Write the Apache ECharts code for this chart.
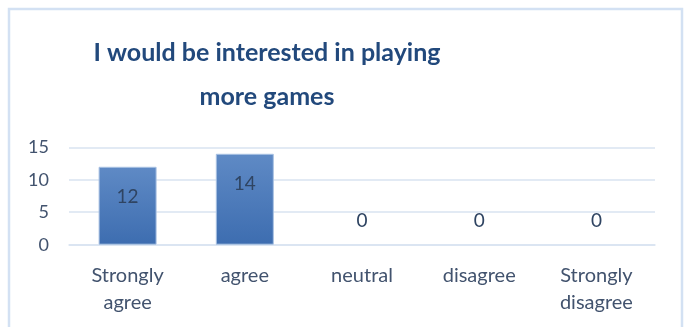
<!DOCTYPE html>
<html>
<head>
<meta charset="utf-8">
<script src="https://cdn.jsdelivr.net/npm/echarts@6/dist/echarts.min.js"></script>
<style>
  html, body { margin: 0; padding: 0; background: #ffffff; }
  #chart { width: 689px; height: 327px; }
</style>
</head>
<body>
<div id="chart"></div>
<script>
// Survey responses
const categories = ['Strongly\nagree', 'agree', 'neutral', 'disagree', 'Strongly\ndisagree'];
const counts = [12, 14, 0, 0, 0];
const titleText = 'I would be interested in playing\nmore games';

const FONT = 'Lato, "Open Sans", sans-serif';
const TEXT_COLOR = '#42536e';

const chart = echarts.init(document.getElementById('chart'));

// Non-empty bars carry their label inside the top; empty ones just above the baseline.
const barData = counts.map(v => v > 0
  ? { value: v }
  : { value: v, itemStyle: { borderWidth: 0 }, label: { position: 'top', distance: 14 } });

chart.setOption({
  animation: false,
  graphic: [{
    type: 'rect',
    shape: { x: 9, y: 9, width: 673, height: 340 },
    style: { fill: 'none', stroke: '#d3e1f3', lineWidth: 2.5 },
    silent: true
  }],
  title: {
    text: titleText,
    left: 262,
    top: 26,
    textAlign: 'center',
    textStyle: {
      fontFamily: FONT,
      fontSize: 25,
      fontWeight: 'bold',
      color: '#22497c',
      lineHeight: 44
    }
  },
  grid: { left: 69, right: 34, top: 147.3, bottom: 82.3 },
  xAxis: {
    type: 'category',
    data: categories,
    axisLine: { show: true, lineStyle: { color: '#d9e3f1', width: 1.5 } },
    axisTick: { show: false },
    axisLabel: {
      fontFamily: FONT,
      fontSize: 20,
      color: TEXT_COLOR,
      margin: 17,
      lineHeight: 27
    }
  },
  yAxis: {
    type: 'value',
    min: 0,
    max: 15,
    interval: 5,
    axisLine: { show: false },
    axisTick: { show: false },
    splitLine: { lineStyle: { color: '#d9e3f1', width: 1.5 } },
    axisLabel: {
      fontFamily: FONT,
      fontSize: 18,
      color: TEXT_COLOR,
      margin: 20
    }
  },
  series: [{
    type: 'bar',
    data: barData,
    barWidth: 58,
    itemStyle: {
      color: new echarts.graphic.LinearGradient(0, 0, 0, 1, [
        { offset: 0, color: '#5f8ac5' },
        { offset: 1, color: '#3d6db0' }
      ]),
      borderColor: '#a9c2e3',
      borderWidth: 1
    },
    label: {
      show: true,
      position: 'insideTop',
      distance: 21,
      fontFamily: FONT,
      fontSize: 19,
      color: '#2f4462'
    }
  }]
});
</script>
</body>
</html>
